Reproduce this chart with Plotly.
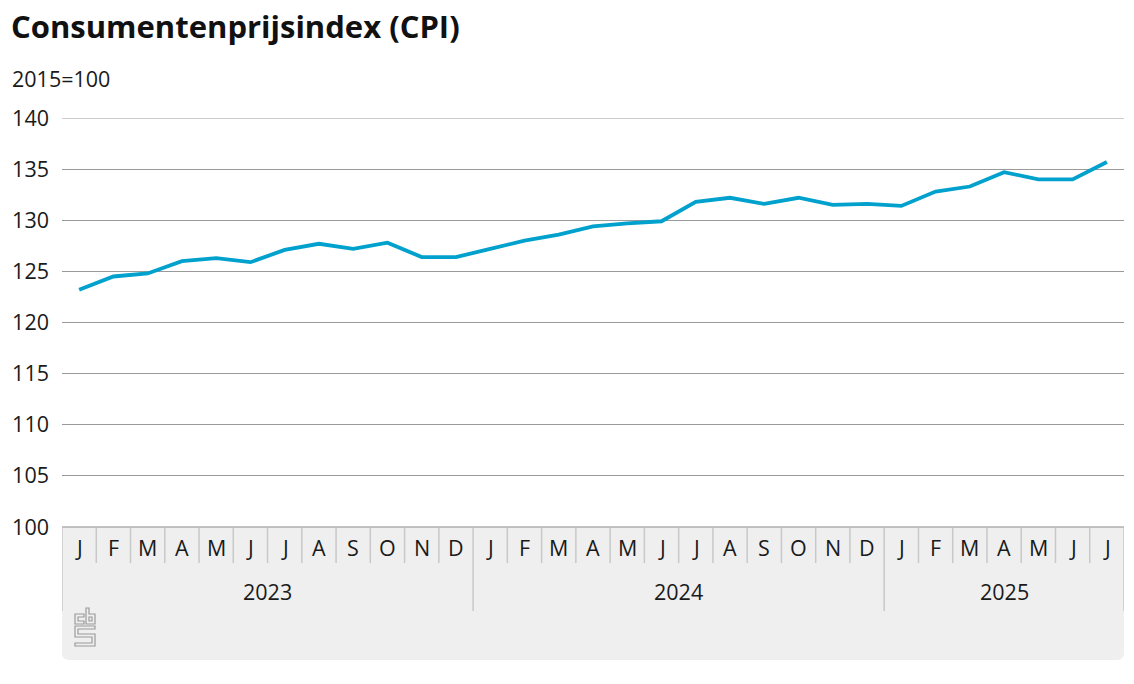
import plotly.graph_objects as go

# ---- data ----
month_labels = ["J", "F", "M", "A", "M", "J", "J", "A", "S", "O", "N", "D"]
years = ["2023", "2024", "2025"]
months_per_year = [12, 12, 7]
cpi = [
    123.2, 124.5, 124.8, 126.0, 126.3, 125.9, 127.1, 127.7, 127.2, 127.8, 126.4, 126.4,
    127.2, 128.0, 128.6, 129.4, 129.7, 129.9, 131.8, 132.2, 131.6, 132.2, 131.5, 131.6,
    131.4, 132.8, 133.3, 134.7, 134.0, 134.0, 135.7,
]
y_ticks = [100, 105, 110, 115, 120, 125, 130, 135, 140]

# ---- layout geometry (pixels) ----
W, H = 1134, 684
L, R, T, B = 62, 1124, 118, 527
FS = 21.5


def px(x):
    return (x - L) / (R - L)


def py(y):
    return (B - y) / (B - T)


n = len(cpi)
xs = list(range(n))
month_seq = []
year_start = []
i0 = 0
for y, m in zip(years, months_per_year):
    year_start.append(i0)
    month_seq += month_labels[:m]
    i0 += m

fig = go.Figure()
fig.add_trace(go.Scatter(
    x=xs, y=cpi, mode="lines",
    line=dict(color="#00a1cd", width=3.8),
    hoverinfo="skip", showlegend=False,
))

shapes = []
annotations = []

# top gridline (edge of range)
shapes.append(dict(type="line", xref="paper", yref="y", x0=0, x1=1,
                   y0=y_ticks[-1], y1=y_ticks[-1],
                   line=dict(color="#9a9a9a", width=1), layer="below"))

# grey background for the category axis with rounded bottom corners
rx, ry = 7 / (R - L), 7 / (B - T)
x0, x1 = px(L), px(R)
y0, y1 = py(B), py(660)
path = (f"M{x0},{y0} L{x1},{y0} L{x1},{y1 + ry} Q{x1},{y1} {x1 - rx},{y1} "
        f"L{x0 + rx},{y1} Q{x0},{y1} {x0},{y1 + ry} Z")
shapes.append(dict(type="path", xref="paper", yref="paper", path=path,
                   fillcolor="#efefef", line=dict(width=0), layer="below"))

# axis baseline
shapes.append(dict(type="line", xref="paper", yref="paper", x0=0, x1=1, y0=0, y1=0,
                   line=dict(color="#8c8c8c", width=1.2)))

sep_color = "#c8c8c8"
# month separators
for i in range(n - 1):
    if (i + 1) in year_start:
        continue
    shapes.append(dict(type="line", xref="x", yref="paper", x0=i + 0.5, x1=i + 0.5,
                       y0=py(B + 1), y1=py(563), line=dict(color=sep_color, width=1.5)))
# year separators and edges
for s in year_start + [n]:
    shapes.append(dict(type="line", xref="x", yref="paper", x0=s - 0.5, x1=s - 0.5,
                       y0=py(B + 1), y1=py(611), line=dict(color=sep_color, width=1.5)))

# month labels
for i, m in enumerate(month_seq):
    annotations.append(dict(x=i, y=py(547), xref="x", yref="paper", text=m,
                            showarrow=False, yanchor="middle",
                            font=dict(size=FS, color="#1a1a1a")))
# year labels
for s, m, yr in zip(year_start, months_per_year, years):
    annotations.append(dict(x=s + (m - 1) / 2, y=py(591), xref="x", yref="paper",
                            text=yr, showarrow=False, yanchor="middle",
                            font=dict(size=FS, color="#1a1a1a")))

# unit label
annotations.append(dict(x=px(10), y=py(78), xref="paper", yref="paper",
                        text="2015=100", showarrow=False, xanchor="left",
                        yanchor="middle", font=dict(size=FS, color="#1a1a1a")))

# CBS logo (outlined)
logo_col = "#9a9a9a"


def poly(points):
    d = "M" + " L".join(f"{px(a)},{py(b)}" for a, b in points) + " Z"
    return dict(type="path", xref="paper", yref="paper", path=d,
                line=dict(color=logo_col, width=1.2), fillcolor="rgba(0,0,0,0)")


shapes.append(poly([(75, 614), (84, 614), (84, 617), (78, 617), (78, 621),
                    (84, 621), (84, 624), (75, 624)]))
shapes.append(poly([(86, 608), (89, 608), (89, 614), (95, 614), (95, 624), (86, 624)]))
shapes.append(poly([(89, 617), (92, 617), (92, 621), (89, 621)]))
shapes.append(poly([(75, 626), (95, 626), (95, 629), (78, 629), (78, 634), (95, 634),
                    (95, 646), (75, 646), (75, 643), (92, 643), (92, 637), (75, 637)]))

fig.update_layout(
    width=W, height=H,
    margin=dict(l=L, r=W - R, t=T, b=H - B, pad=0),
    paper_bgcolor="white", plot_bgcolor="white",
    font=dict(family="Open Sans, sans-serif", color="#1a1a1a"),
    title=dict(text="<b>Consumentenprijsindex (CPI)</b>", x=11 / W, xanchor="left",
               y=1 - 27 / H, yanchor="middle", xref="container", yref="container",
               font=dict(size=31, color="#111111")),
    xaxis=dict(range=[-0.5, n - 0.5], showgrid=False, zeroline=False,
               showticklabels=False, ticks="", showline=False, fixedrange=True),
    yaxis=dict(range=[100, 140], tickvals=y_ticks, showgrid=True,
               gridcolor="#9a9a9a", gridwidth=1, zeroline=False, showline=False,
               ticks="", ticklabelstandoff=12, tickfont=dict(size=FS, color="#1a1a1a"),
               fixedrange=True),
    shapes=shapes,
    annotations=annotations,
    showlegend=False,
)

fig.write_html(
    "out.html",
    config={"displayModeBar": False},
    post_script="document.body.style.margin='0';document.body.style.overflow='hidden';",
)
